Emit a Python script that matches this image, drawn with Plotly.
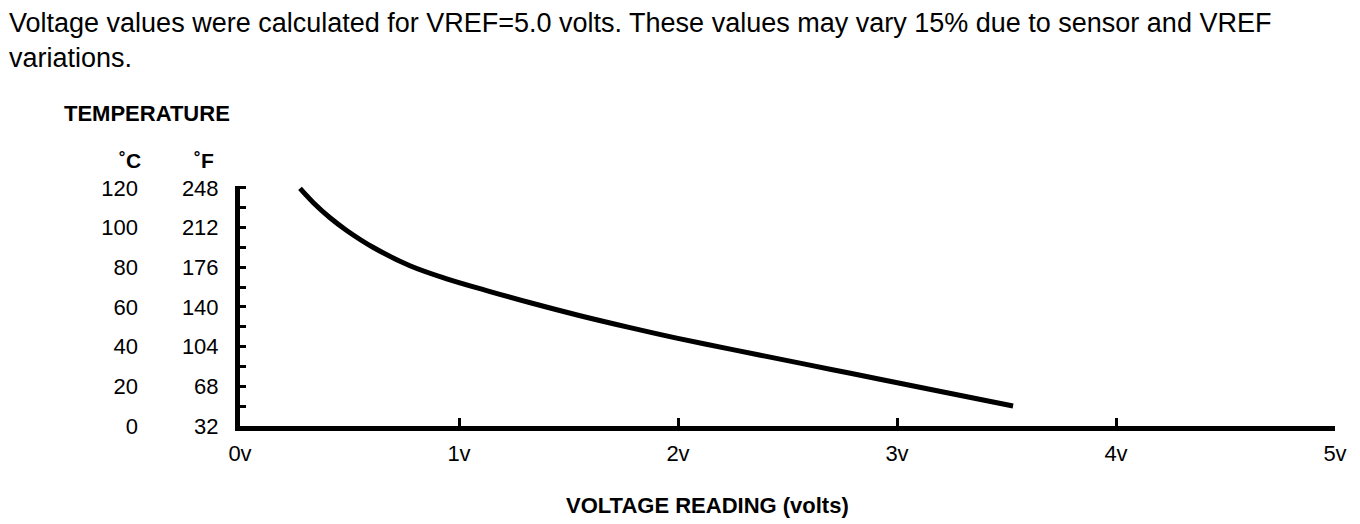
import plotly.graph_objects as go

# curve: sensor voltage vs temperature (°C)
volts = [0.274, 0.335, 0.411, 0.487, 0.609, 0.776, 0.944, 1.126, 1.33, 1.553,
         1.781, 1.994, 2.25, 2.466, 2.70, 2.922, 3.2, 3.53]
temp_c = [119.8, 112.6, 105.0, 98.6, 90.0, 80.8, 74.2, 68.3, 62.0, 55.6,
          49.6, 44.3, 38.5, 33.7, 28.5, 23.6, 17.4, 10.1]

# axis labels
c_ticks = [0, 20, 40, 60, 80, 100, 120]
f_labels = ["32", "68", "104", "140", "176", "212", "248"]
c_labels = ["0", "20", "40", "60", "80", "100", "120"]
v_ticks = [0, 1, 2, 3, 4, 5]
v_labels = ["0v", "1v", "2v", "3v", "4v", "5v"]

# page has an 8px body margin, so the figure is a bit smaller and shifted
OFF = 8
W, H = 1352, 516
L, R, T, B = 232, 25, 178, 98
FONT = "Liberation Sans, Arial, sans-serif"


def px(x):
    # page pixel -> paper x
    return (x - OFF - L) / (W - L - R)


def py(y):
    # page pixel -> paper y
    return (H - B - (y - OFF)) / (H - B - T)


fig = go.Figure()
fig.add_trace(go.Scatter(x=volts, y=temp_c, mode="lines",
                         line=dict(color="black", width=5, shape="spline", smoothing=1.0),
                         hoverinfo="skip", showlegend=False))
# same curve on the second axis so the °C label column is drawn
fig.add_trace(go.Scatter(x=volts, y=temp_c, mode="lines", yaxis="y2",
                         line=dict(color="rgba(0,0,0,0)", width=0),
                         hoverinfo="skip", showlegend=False))

fig.update_layout(
    width=W, height=H,
    margin=dict(l=L, r=R, t=T, b=B),
    paper_bgcolor="white", plot_bgcolor="white",
    font=dict(family=FONT, size=22, color="black"),
    xaxis=dict(range=[0, 5], tickvals=v_ticks, ticktext=v_labels,
               showgrid=False, zeroline=False, showline=True,
               linecolor="black", linewidth=5,
               ticks="inside", ticklen=8, tickwidth=3, tickcolor="black",
               ticklabelstandoff=4, tickfont=dict(size=22)),
    yaxis=dict(range=[0, 121], tickvals=c_ticks, ticktext=f_labels,
               showgrid=False, zeroline=False, showline=True,
               linecolor="black", linewidth=5,
               ticks="inside", ticklen=6, tickwidth=3, tickcolor="black",
               minor=dict(dtick=10, tick0=0, ticks="inside", ticklen=6,
                          tickwidth=3, tickcolor="black", showgrid=False),
               ticklabelstandoff=12, tickfont=dict(size=22)),
    yaxis2=dict(range=[0, 121], overlaying="y", side="left",
                tickvals=c_ticks, ticktext=c_labels,
                showgrid=False, zeroline=False, showline=False, ticks="",
                ticklabelstandoff=101, tickfont=dict(size=22)),
)

fig.update_layout(annotations=[
    dict(text="Voltage values were calculated for VREF=5.0 volts. These values may vary 15% due to sensor and VREF<br>variations.",
         xref="paper", yref="paper", x=px(7), y=py(41), xanchor="left", yanchor="middle",
         align="left", showarrow=False, font=dict(size=27)),
    dict(text="<b>TEMPERATURE</b>", xref="paper", yref="paper", x=px(62), y=py(113),
         xanchor="left", yanchor="middle", showarrow=False, font=dict(size=22)),
    dict(text="<b>˚C</b>", xref="paper", yref="paper", x=px(130), y=py(160),
         xanchor="center", yanchor="middle", showarrow=False, font=dict(size=21)),
    dict(text="<b>˚F</b>", xref="paper", yref="paper", x=px(204), y=py(160),
         xanchor="center", yanchor="middle", showarrow=False, font=dict(size=21)),
    dict(text="<b>VOLTAGE READING (volts)</b>", xref="paper", yref="paper", x=px(707), y=py(505),
         xanchor="center", yanchor="middle", showarrow=False, font=dict(size=22)),
])

fig.write_html("out.html")
